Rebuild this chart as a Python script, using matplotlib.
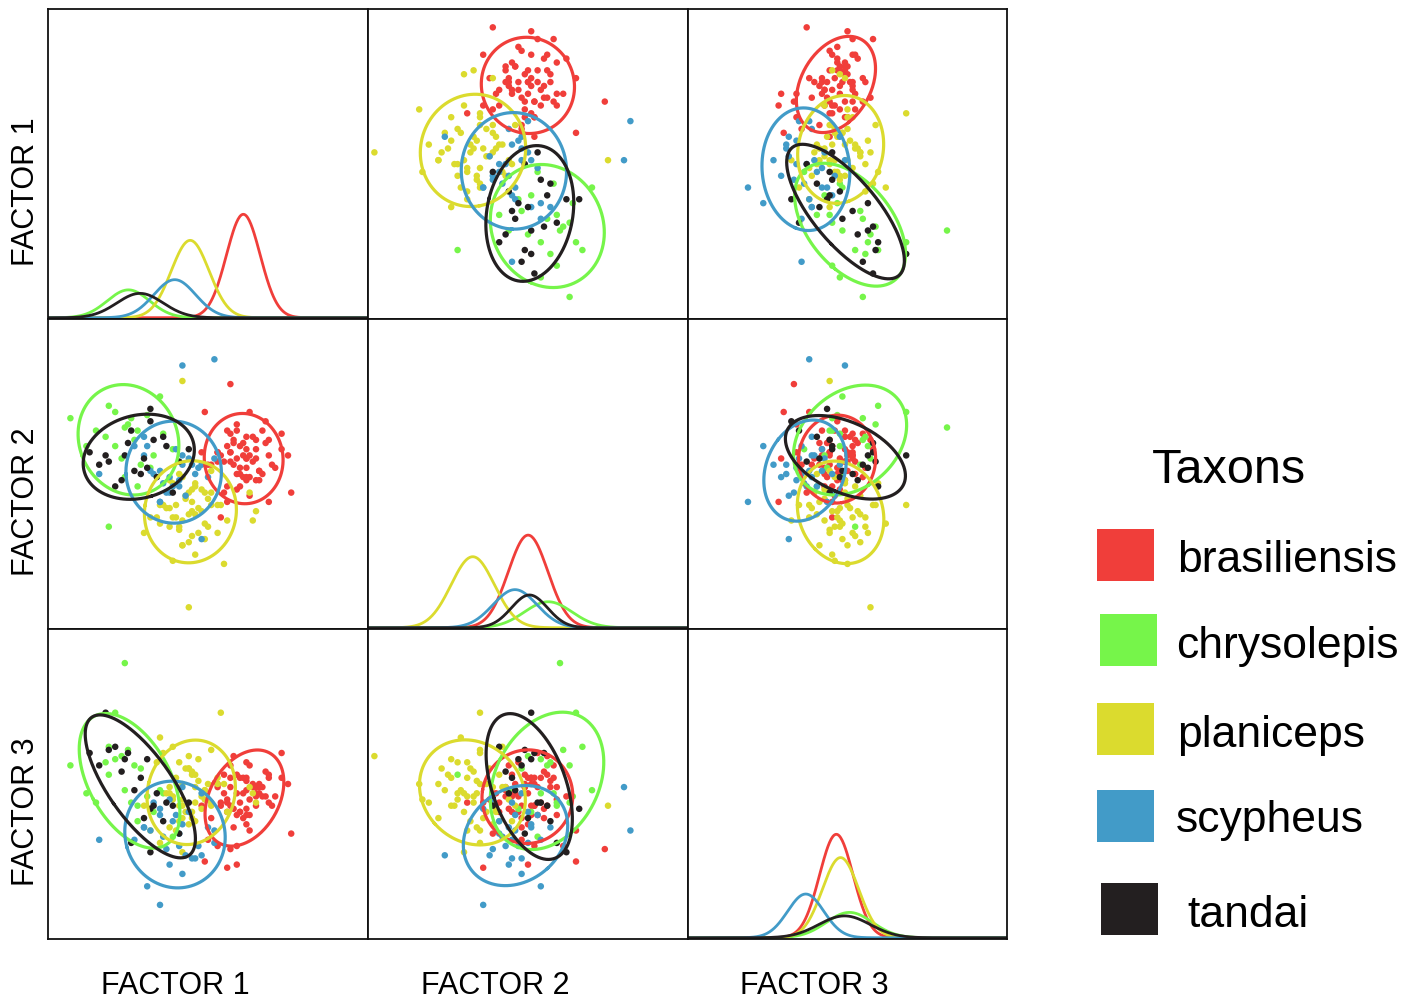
import numpy as np
import matplotlib.pyplot as plt
from matplotlib.patches import Rectangle

plt.rcParams["font.family"] = ["Liberation Sans", "DejaVu Sans"]

taxa = ["brasiliensis", "chrysolepis", "planiceps", "scypheus", "tandai"]
colors = ["#F03E3A", "#76F54A", "#DBDB2E", "#429BC8", "#231F20"]
factors = ["FACTOR 1", "FACTOR 2", "FACTOR 3"]

# factor scores, one list per taxon and factor
bras_f1 = [6.1, 5.7, 6.8, 6.3, 5.3, 6.6, 6.0, 7.1, 5.6, 6.3, 5.4, 6.5, 5.9, 6.9, 5.0, 6.2, 6.6, 5.7, 6.2, 5.9,
           6.5, 6.0, 6.9, 5.7, 6.2, 5.6, 6.4, 5.9, 6.7, 5.3, 6.2, 6.5, 5.8, 6.2, 6.0, 6.1, 5.8, 6.6, 6.3, 5.5,
           5.3, 6.5, 5.8, 7.0, 4.8, 6.2, 6.8, 5.6, 6.2, 5.9, 6.1, 5.7, 6.9, 6.4, 5.1, 6.7, 6.0, 7.3, 5.5, 6.3,
           7.5, 7.3, 5.6, 5.9, 4.9, 5.7, 7.6, 5.4]
bras_f2 = [6.0, 5.4, 6.7, 4.9, 5.7, 4.8, 5.9, 5.2, 6.4, 4.3, 5.6, 6.1, 5.0, 5.6, 5.3, 5.5, 5.1, 6.3, 5.8, 4.5,
           5.5, 5.2, 6.1, 5.7, 4.8, 5.9, 5.4, 6.4, 5.0, 5.7, 4.9, 5.8, 5.3, 6.2, 4.6, 5.6, 6.0, 5.1, 5.6, 5.4,
           5.4, 4.8, 6.1, 5.3, 5.7, 5.5, 6.0, 4.6, 5.2, 6.6, 4.9, 5.7, 4.1, 6.2, 5.3, 6.4, 5.0, 5.8, 4.4, 7.0,
           5.6, 6.3, 4.1, 5.5, 7.0, 7.9, 4.4, 3.6]
bras_f3 = [3.9, 4.9, 4.6, 5.6, 3.0, 4.9, 5.2, 4.6, 4.5, 4.5, 4.3, 4.3, 5.3, 5.2, 3.2, 5.2, 4.7, 5.6, 4.0, 4.7,
           4.7, 4.1, 5.3, 4.3, 4.8, 4.4, 5.0, 4.0, 4.6, 5.0, 4.2, 4.9, 3.6, 5.1, 4.4, 5.2, 4.2, 5.0, 4.0, 5.3,
           4.9, 4.6, 5.9, 4.3, 4.3, 3.7, 5.4, 4.1, 5.7, 3.0, 4.7, 5.2, 4.4, 4.9, 3.9, 4.9, 4.1, 6.0, 4.7, 3.5,
           5.0, 5.2, 2.3, 2.4, 2.5, 2.9, 3.4, 4.4]

chry_f1 = [2.6, 2.1, 3.5, 2.9, 1.5, 3.2, 2.5, 3.9, 1.9, 2.8, 1.8, 3.1, 2.3, 3.6, 1.2, 2.7, 3.3, 2.1, 2.8, 2.4,
           2.4, 0.7, 1.9]
chry_f2 = [6.8, 5.9, 7.5, 5.3, 6.4, 5.2, 6.6, 5.8, 7.2, 4.6, 6.2, 6.9, 5.5, 6.3, 5.9, 6.1, 5.6, 7.0, 6.4, 4.9,
           6.5, 6.8, 3.3]
chry_f3 = [4.4, 5.8, 4.8, 5.5, 4.4, 4.2, 6.1, 3.3, 6.2, 3.8, 5.7, 4.6, 5.9, 4.7, 4.7, 5.6, 4.1, 7.3, 4.3, 4.8,
           8.9, 5.6, 5.3]

plan_f1 = [4.4, 4.0, 5.1, 4.7, 3.5, 4.9, 4.3, 5.6, 3.8, 4.6, 3.7, 4.8, 4.1, 5.3, 3.2, 4.5, 5.0, 3.9, 4.5, 4.2,
           4.8, 4.3, 5.3, 3.9, 4.6, 3.8, 4.7, 4.2, 5.1, 3.4, 4.5, 4.9, 4.0, 4.5, 4.2, 4.4, 4.1, 5.0, 4.6, 3.6,
           4.4, 4.9, 3.5, 4.1, 5.5, 3.8, 4.6, 3.0, 5.1, 4.2,
           4.2, 4.4, 5.4, 6.4, 6.3, 6.5, 3.9]
plan_f2 = [4.4, 3.6, 5.1, 3.1, 4.0, 2.9, 4.3, 3.5, 4.8, 2.4, 3.9, 4.5, 3.3, 4.0, 3.6, 3.8, 3.3, 4.7, 4.1, 2.7,
           3.8, 4.2, 3.1, 3.6, 4.7, 3.3, 3.9, 2.7, 4.4, 3.6, 4.5, 3.4, 4.0, 3.0, 4.9, 3.7, 3.2, 4.2, 3.7, 4.0,
           2.8, 4.4, 3.4, 5.0, 2.1, 3.9, 4.6, 3.1, 4.0, 3.5,
           8.0, 0.7, 4.0, 3.5, 4.4, 3.8, 2.2]
plan_f3 = [3.7, 5.2, 4.3, 5.8, 3.1, 4.8, 5.5, 4.1, 4.9, 4.4, 4.7, 4.2, 5.7, 5.0, 3.5, 5.4, 4.5, 6.2, 3.9, 5.0,
           4.6, 4.1, 5.2, 4.6, 4.9, 4.7, 5.1, 3.9, 4.4, 5.7, 4.1, 4.8, 3.5, 5.3, 4.5, 5.5, 4.3, 5.0, 3.8, 6.0,
           5.5, 4.5, 6.5, 3.8, 5.0, 3.6, 5.3, 4.3, 6.1, 2.8,
           4.3, 5.9, 7.3, 4.7, 4.9, 4.4, 4.5]

scyp_f1 = [4.0, 3.6, 4.8, 4.3, 3.0, 4.6, 3.9, 5.2, 3.3, 4.2, 3.2, 4.4, 3.7, 5.0, 2.7, 4.1, 4.7, 3.5, 4.2, 3.8,
           3.5, 4.1, 3.0, 4.5, 3.8,
           4.2, 5.2, 3.5, 3.1, 1.6, 4.8]
scyp_f2 = [5.8, 4.7, 5.3, 4.3, 6.2, 5.0, 4.6, 5.5, 5.0, 5.3, 5.1, 5.5, 4.4, 4.9, 5.9, 4.6, 5.2, 4.1, 5.6, 4.9,
           5.1, 4.8, 5.6, 5.3, 4.4,
           8.5, 8.7, 4.1, 5.9, 5.0, 2.9]
scyp_f3 = [4.0, 3.3, 4.7, 2.7, 3.6, 2.6, 3.8, 3.1, 4.4, 2.1, 3.5, 4.1, 2.9, 3.6, 3.2, 3.4, 3.0, 4.2, 3.7, 2.4,
           4.0, 3.0, 3.6, 2.6, 4.5,
           4.9, 3.5, 1.1, 1.7, 3.2, 2.7]

tand_f1 = [3.0, 3.7, 2.3, 3.1, 2.6, 2.9, 2.4, 3.9, 3.3, 1.6, 3.6, 2.7, 4.4, 2.1, 3.2, 1.9, 3.4, 2.5, 4.1, 1.3,
           1.8, 3.2]
tand_f2 = [5.5, 5.9, 4.8, 5.2, 6.4, 5.0, 5.6, 4.4, 6.1, 5.3, 6.2, 5.1, 5.8, 4.6, 6.7, 5.4, 4.9, 6.0, 5.4, 5.7,
           5.6, 7.1]
tand_f3 = [3.9, 4.4, 5.4, 5.8, 3.1, 5.2, 5.8, 4.3, 4.3, 5.6, 3.8, 4.8, 4.4, 6.2, 2.8, 6.1, 4.7, 6.0, 3.4, 6.0,
           7.3, 4.2]

scores = [
    np.array([bras_f1, bras_f2, bras_f3]),
    np.array([chry_f1, chry_f2, chry_f3]),
    np.array([plan_f1, plan_f2, plan_f3]),
    np.array([scyp_f1, scyp_f2, scyp_f3]),
    np.array([tand_f1, tand_f2, tand_f3]),
]

# how each factor is scaled when it sits on the x axis (columns) or y axis (rows)
x_ranges = [(0, 10), (0.5, 10.5), (-1.25, 11.25)]
y_ranges = [(0.135, 8.07), (0, 10), (0, 10)]
peak_frac = [0.335, 0.30, 0.335]

W, H = 1424, 1006
panel_x = [48, 368, 688, 1007]
panel_y = [9, 319, 629, 939]


def robust_cov(pts, nu=5, n_iter=40):
    # t-distribution weighted location/scatter, like MASS::cov.trob
    loc = pts.mean(axis=0)
    d = pts - loc
    cov = d.T @ d / len(pts)
    for _ in range(n_iter):
        d = pts - loc
        m = np.einsum("ij,jk,ik->i", d, np.linalg.inv(cov), d)
        w = (nu + pts.shape[1]) / (nu + m)
        loc = (w[:, None] * pts).sum(axis=0) / w.sum()
        d = pts - loc
        cov = (w[:, None] * d).T @ d / len(pts)
    return loc, cov


def ellipse(x, y, scale=2.3):
    loc, cov = robust_cov(np.column_stack([x, y]))
    vals, vecs = np.linalg.eigh(cov)
    t = np.linspace(0, 2 * np.pi, 200)
    ring = vecs @ (np.sqrt(vals)[:, None] * np.vstack([np.cos(t), np.sin(t)])) * scale
    return loc[0] + ring[0], loc[1] + ring[1]


fig = plt.figure(figsize=(W / 100, H / 100), dpi=100)

for row in range(3):
    for col in range(3):
        x0, x1 = panel_x[col], panel_x[col + 1]
        y0, y1 = panel_y[row], panel_y[row + 1]
        ax = fig.add_axes([x0 / W, 1 - y1 / H, (x1 - x0) / W, (y1 - y0) / H])
        ax.set_xticks([])
        ax.set_yticks([])
        for sp in ax.spines.values():
            sp.set_linewidth(1.3)
            sp.set_color("#111111")
        ax.set_xlim(x_ranges[col])

        if row == col:
            grid = np.linspace(*x_ranges[col], 400)
            peak = 0
            for data, color in zip(scores, colors):
                loc, cov = robust_cov(data[col][:, None])
                sd = np.sqrt(cov[0, 0])
                dens = len(data[col]) * np.exp(-0.5 * ((grid - loc[0]) / sd) ** 2) / (sd * np.sqrt(2 * np.pi))
                peak = max(peak, dens.max())
                ax.plot(grid, dens, color=color, lw=2.0, solid_capstyle="round")
            top = peak / peak_frac[col]
            ax.set_ylim(-0.004 * top, top)
        else:
            ax.set_ylim(y_ranges[row])
            for data, color in zip(scores, colors):
                ax.scatter(data[col], data[row], s=22, color=color, edgecolors="none", zorder=2)
            for data, color in zip(scores, colors):
                ex, ey = ellipse(data[col], data[row])
                ax.plot(ex, ey, color=color, lw=2.3, zorder=3)

for i, name in enumerate(factors):
    fig.text(26 / W, 1 - (panel_y[i] + panel_y[i + 1] + 55) / 2 / H, name, rotation=90,
             ha="center", va="center", fontsize=22)
    fig.text((panel_x[i] + panel_x[i + 1] - 66) / 2 / W, 1 - 986 / H, name,
             ha="center", va="center", fontsize=22)

# legend
fig.text(1152 / W, 1 - 483 / H, "Taxons", fontsize=35, ha="left", va="baseline")
box_left = [1097, 1100, 1097, 1097, 1101]
box_top = [529, 614, 703, 790, 883]
label_left = [1177, 1176, 1177, 1176, 1187]
label_base = [572, 658, 747, 832, 927]
for i, (name, color) in enumerate(zip(taxa, colors)):
    fig.add_artist(Rectangle((box_left[i] / W, 1 - (box_top[i] + 52) / H), 57 / W, 52 / H,
                             transform=fig.transFigure, facecolor=color, edgecolor="none"))
    fig.text(label_left[i] / W, 1 - label_base[i] / H, name, fontsize=32, ha="left", va="baseline")

fig.savefig("out.png", dpi=100)
